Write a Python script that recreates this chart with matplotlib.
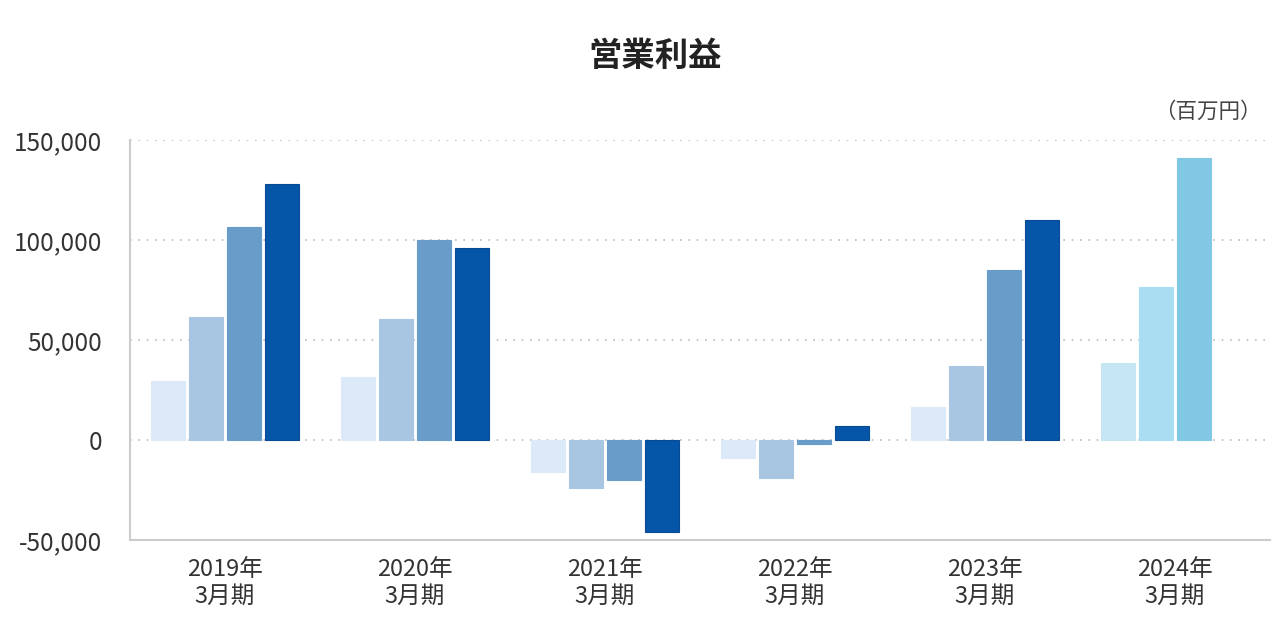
import matplotlib
matplotlib.use("Agg")
import numpy as np
import matplotlib.pyplot as plt
from matplotlib.ticker import FuncFormatter

plt.rcParams['font.family'] = ['Noto Sans CJK JP', 'DejaVu Sans']

# 営業利益 (百万円), four bars per fiscal year
years = ["2019年\n3月期", "2020年\n3月期", "2021年\n3月期",
         "2022年\n3月期", "2023年\n3月期", "2024年\n3月期"]
bar1 = [29500, 31500, -16000, -9000, 16500, 38500]
bar2 = [61500, 60500, -24000, -19000, 37000, 76500]
bar3 = [106500, 100000, -20000, -2000, 85000, 141000]
bar4 = [128000, 96000, -46000, 7000, 110000, None]

blue_colors = ["#dbe9f8", "#a8c6e2", "#6a9cca", "#0556a8"]
cyan_colors = ["#c6e6f3", "#a8ddf2", "#80c8e3"]

fig = plt.figure(figsize=(12.79, 6.37), dpi=100)
ax = fig.add_axes([130/1279, 97/637, 1140/1279, 400/637])

series = [bar1, bar2, bar3, bar4]
x = np.arange(len(years))
pitch = 0.2
width = 0.178
for i, vals in enumerate(series):
    offs = (i - 1.5) * pitch
    for j, v in enumerate(vals):
        if v is None:
            continue
        if j == len(years) - 1:
            col = cyan_colors[i]
            ec = col
        else:
            col = blue_colors[i]
            ec = "#0a4a94" if i == 3 else col
        ax.bar(x[j] + offs, v, width=width, color=col, edgecolor=ec, linewidth=0.8, zorder=3)

ax.set_xlim(-0.5, len(years) - 0.5)
ax.set_ylim(-50000, 150000)
ax.set_yticks([-50000, 0, 50000, 100000, 150000])
ax.yaxis.set_major_formatter(FuncFormatter(lambda v, p: f"{int(v):,}"))
ax.set_xticks(x)
ax.set_xticklabels(years, fontsize=17, color="#333333", linespacing=1.2)
ax.tick_params(axis="y", length=0, pad=20, labelsize=17.5, labelcolor="#333333")
ax.tick_params(axis="x", length=0, pad=13)

for g in [0, 50000, 100000, 150000]:
    ax.axhline(g, color="#bbbbbb", linestyle=(0, (1, 4)), linewidth=1.2, zorder=1)

for s in ["top", "right"]:
    ax.spines[s].set_visible(False)
for s in ["left", "bottom"]:
    ax.spines[s].set_color("#cccccc")
    ax.spines[s].set_linewidth(1.5)

fig.text(655/1279, 1 - 56/637, "営業利益", ha="center", va="center",
         fontsize=24, fontweight="bold", color="#222222")
fig.text(1262/1279, 1 - 112/637, "（百万円）", ha="right", va="center",
         fontsize=15.5, color="#444444")

fig.savefig("out.png", dpi=100)
